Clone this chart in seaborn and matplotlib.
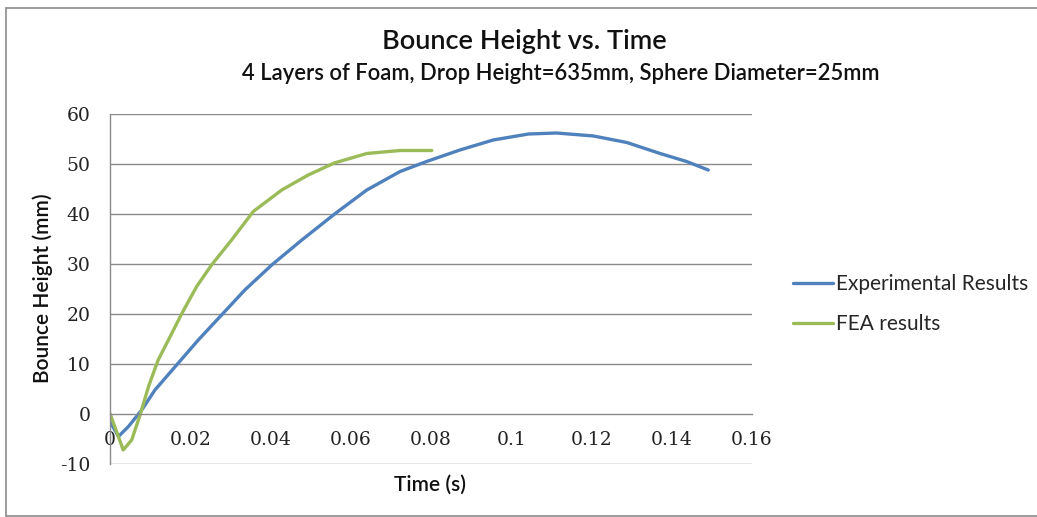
import matplotlib
matplotlib.use("Agg")
import matplotlib.pyplot as plt
from matplotlib.lines import Line2D
import seaborn as sns
import pandas as pd

# Experimental bounce trace (time in s, height in mm)
exp_time = [0.0, 0.0021, 0.0046, 0.0079, 0.0112, 0.0166, 0.022, 0.0278, 0.0336,
            0.0403, 0.0478, 0.0563, 0.064, 0.0723, 0.0789, 0.0872, 0.0955,
            0.1043, 0.1113, 0.1205, 0.1288, 0.1371, 0.1437, 0.1491]
exp_height = [-1.5, -4.5, -2.5, 0.8, 4.8, 9.8, 14.8, 19.8, 24.8,
              29.8, 34.8, 40.2, 44.8, 48.5, 50.5, 52.8, 54.8,
              56.0, 56.2, 55.6, 54.3, 52.1, 50.5, 48.8]

# Finite element prediction
fea_time = [0.0, 0.0033, 0.0054, 0.0075, 0.0096, 0.012, 0.015, 0.0179, 0.0216,
            0.0253, 0.0303, 0.0357, 0.0428, 0.0494, 0.0559, 0.064, 0.0723, 0.0802]
fea_height = [0.1, -7.2, -5.2, -0.2, 5.5, 10.8, 15.5, 20.1, 25.5,
              29.8, 34.8, 40.5, 44.8, 47.8, 50.2, 52.1, 52.7, 52.7]

series_names = ["Experimental Results", "FEA results"]
series_colors = ["#4F81BD", "#9BBB59"]

x_ticks = [0, 0.02, 0.04, 0.06, 0.08, 0.1, 0.12, 0.14, 0.16]
x_tick_labels = ["0", "0.02", "0.04", "0.06", "0.08", "0.1", "0.12", "0.14", "0.16"]
y_ticks = [-10, 0, 10, 20, 30, 40, 50, 60]

df = pd.concat([
    pd.DataFrame({"time": exp_time, "height": exp_height, "series": series_names[0]}),
    pd.DataFrame({"time": fea_time, "height": fea_height, "series": series_names[1]}),
], ignore_index=True)

sns.set_style("white")
plt.rcParams["font.family"] = ["Lato", "DejaVu Sans"]
plt.rcParams["axes.unicode_minus"] = False
plt.rcParams["lines.solid_joinstyle"] = "round"
plt.rcParams["lines.solid_capstyle"] = "round"

W, H = 1037, 517
fig = plt.figure(figsize=(W / 100, H / 100), dpi=100)
ax = fig.add_axes([110 / W, 1 - 464 / H, (752 - 110) / W, (464 - 114) / H])

sns.lineplot(data=df, x="time", y="height", hue="series", hue_order=series_names,
             palette=series_colors, sort=False, estimator=None, linewidth=2.4,
             ax=ax, legend=False)

ax.set_xlim(0, 0.16)
ax.set_ylim(-10, 60)
ax.set_xticks(x_ticks)
ax.set_xticklabels(x_tick_labels)
ax.set_yticks(y_ticks)

grid_color = "#8a8a8a"
for y in y_ticks:
    if y != 0:
        ax.axhline(y, color=grid_color, lw=1.0, zorder=0)

for side in ["top", "right"]:
    ax.spines[side].set_visible(False)
ax.spines["bottom"].set_position(("data", 0))
ax.spines["bottom"].set_color(grid_color)
ax.spines["bottom"].set_linewidth(1.0)
ax.spines["left"].set_color(grid_color)
ax.spines["left"].set_linewidth(1.0)

ax.tick_params(axis="x", length=0, pad=12)
ax.tick_params(axis="y", length=0, pad=14)
for lab in ax.get_xticklabels() + ax.get_yticklabels():
    lab.set_fontfamily("DejaVu Serif")
    lab.set_fontsize(13.5)
    lab.set_color("#222222")

ax.set_xlabel("")
ax.set_ylabel("")
text_color = "#111111"
fig.text(430 / W, 1 - 485 / H, "Time (s)", ha="center", va="center",
         fontsize=15, fontweight="semibold", color=text_color)
fig.text(43 / W, 1 - 288 / H, "Bounce Height (mm)", ha="center", va="center",
         rotation=90, fontsize=15, fontweight="semibold", color=text_color)

fig.text(524 / W, 1 - 42 / H, "Bounce Height vs. Time", ha="center", va="center",
         fontsize=19.5, fontweight="semibold", color=text_color)
fig.text(561 / W, 1 - 74 / H,
         "4 Layers of Foam, Drop Height=635mm, Sphere Diameter=25mm",
         ha="center", va="center", fontsize=15.8, fontweight="semibold", color=text_color)

handles = [Line2D([0], [0], color=c, lw=2.4) for c in series_colors]
fig.legend(handles, series_names, loc="center left",
           bbox_to_anchor=(793 / W, 1 - 304 / H), frameon=False,
           fontsize=15, handlelength=1.9, handletextpad=0.15, labelspacing=0.95,
           borderaxespad=0, borderpad=0)

# Chart frame
frame = dict(color="#8c8c8c", lw=1.2, transform=fig.transFigure)
fig.add_artist(Line2D([6 / W, 6 / W], [1 - 8 / H, 1 - 516 / H], **frame))
fig.add_artist(Line2D([6 / W, 1.0], [1 - 8 / H, 1 - 8 / H], **frame))
fig.add_artist(Line2D([6 / W, 1.0], [1 - 516 / H, 1 - 516 / H], **frame))

fig.savefig("out.png", dpi=100, facecolor="white")
